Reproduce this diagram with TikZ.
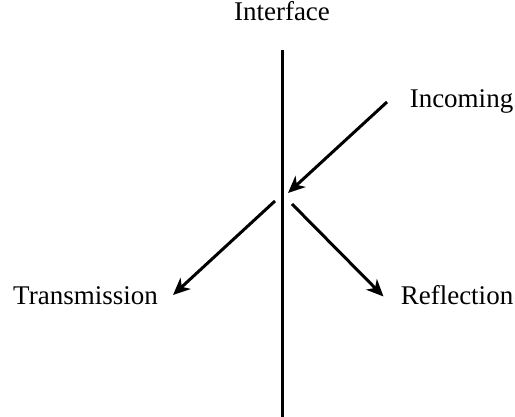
\documentclass[tikz,border=0pt]{standalone}
\usepackage{fontspec}
\setmainfont{Liberation Serif}
\usetikzlibrary{arrows.meta}
\begin{document}
\begin{tikzpicture}[x=1pt,y=-1pt,
  lbl/.style={inner sep=0pt,anchor=base,font=\fontsize{27}{32}\selectfont},
  ray/.style={line width=3pt,-{Stealth[length=17pt,width=15pt,inset=5pt]}}]
\useasboundingbox (0,0) rectangle (515,417);
\coordinate (top) at (282.7,50);
\coordinate (bot) at (282.7,417);
\draw[line width=3.2pt] (top) -- (bot);
\node[lbl] (iface) at (282,21) {Interface};
\node[lbl] (inc) at (461.5,108) {Incoming};
\node[lbl] (trans) at (85.5,305) {Transmission};
\node[lbl] (refl) at (457,305) {Reflection};
\coordinate (incS) at (387,102);
\coordinate (incT) at (288,193);
\coordinate (trS) at (275,201);
\coordinate (trT) at (173,295);
\coordinate (rfS) at (292,204);
\coordinate (rfT) at (383.5,296.5);
\draw[ray] (incS) -- (incT);
\draw[ray] (trS) -- (trT);
\draw[ray] (rfS) -- (rfT);
\end{tikzpicture}
\end{document}
